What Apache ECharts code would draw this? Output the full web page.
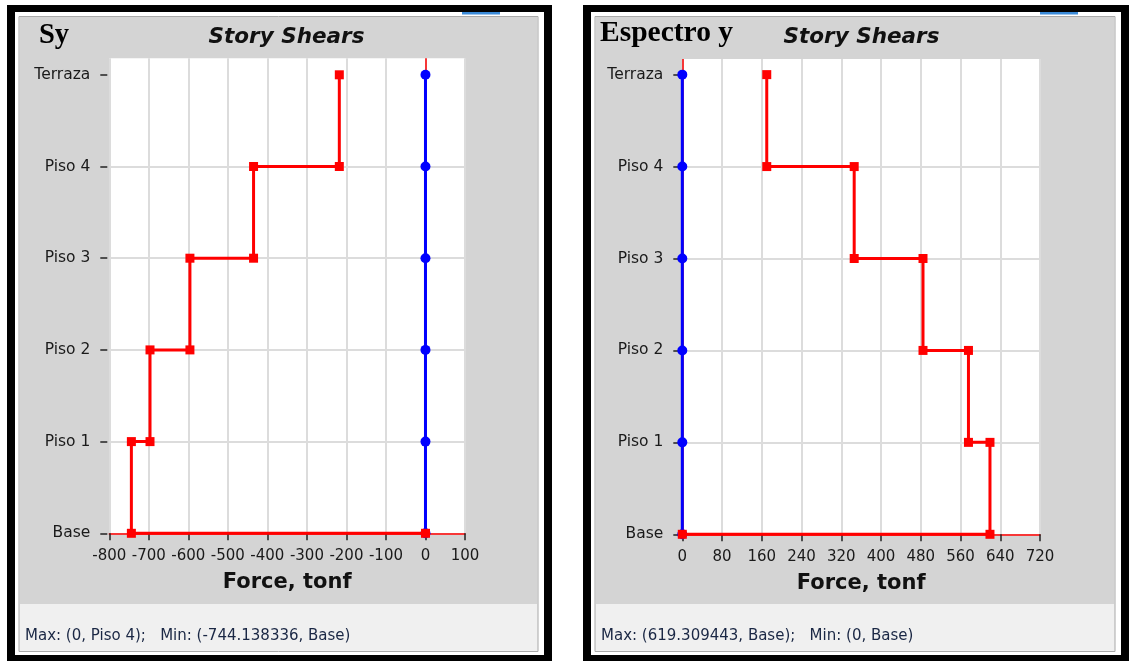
<!DOCTYPE html>
<html>
<head>
<meta charset="utf-8">
<script src="https://cdn.jsdelivr.net/npm/echarts@6/dist/echarts.min.js"></script>
<style>
html,body{margin:0;padding:0;background:#fff;}
#c{width:1137px;height:661px;}
</style>
</head>
<body>
<div id="c"></div>
<script>
// ---- data ----
const storyLevels = ['Base', 'Piso 1', 'Piso 2', 'Piso 3', 'Piso 4', 'Terraza'];
// story shears, from top story (Terraza) down to Piso 1
const shearSy = [-218, -435, -596, -697, -744.138336];
const shearSpecY = [170, 346, 484.5, 576, 619.309443];
const zeroSy = [0, 0, 0, 0, 0, 0];
const zeroSpecY = [0, 0, 0, 0, 0, 0];
const xTicksSy = { min: -800, max: 100, interval: 100 };
const xTicksSpecY = { min: 0, max: 720, interval: 80 };
const statusSy = 'Max: (0, Piso 4);   Min: (-744.138336, Base)';
const statusSpecY = 'Max: (619.309443, Base);   Min: (0, Base)';
const panelLabels = ['Sy', 'Espectro y'];
const chartTitle = 'Story Shears';
const axisTitle = 'Force, tonf';

// build stepped shear polyline: each story shear spans its top level and the level below
function stepPoints(shears) {
  const top = storyLevels.length - 1;
  const pts = [];
  shears.forEach((v, i) => {
    pts.push([v, top - i]);
    pts.push([v, top - i - 1]);
  });
  pts.push([0, 0]);
  return pts;
}
function zeroPoints(vals) {
  return vals.map((v, i) => [v, storyLevels.length - 1 - i]);
}

const FONT = 'DejaVu Sans';
const chart = echarts.init(document.getElementById('c'), null, { renderer: 'canvas' });

function xAxisDef(gi, t) {
  return {
    type: 'value', gridIndex: gi, min: t.min, max: t.max, interval: t.interval,
    axisLine: { show: true, onZero: false, lineStyle: { color: '#ff0000', width: 1.5 } },
    axisTick: { show: true, length: 7, lineStyle: { color: '#222', width: 1.5 } },
    axisLabel: { fontFamily: FONT, fontSize: 15, color: '#1a1a1a', margin: 15 },
    splitLine: { show: true, lineStyle: { color: '#dcdcdc', width: 2 } },
    name: axisTitle, nameLocation: 'middle', nameGap: 39,
    nameTextStyle: { fontFamily: FONT, fontSize: 21, fontWeight: 'bold', color: '#111' }
  };
}
function yAxisDef(gi, maxV) {
  const vals = storyLevels.map((s, i) => i);
  return {
    type: 'value', gridIndex: gi, min: 0, max: maxV, interval: 1, offset: 2,
    axisLine: { show: false, onZero: false },
    axisTick: { show: true, length: 7, customValues: vals, lineStyle: { color: '#222', width: 1.5 } },
    axisLabel: { fontFamily: FONT, fontSize: 15.5, color: '#1a1a1a', margin: 17, customValues: vals,
      formatter: v => storyLevels[Math.round(v)] },
    splitLine: { show: true, showMaxLine: false, lineStyle: { color: '#dcdcdc', width: 2 } }
  };
}
function seriesDefs(idx, shears, zeros) {
  return [
    { type: 'line', xAxisIndex: idx, yAxisIndex: idx, data: zeroPoints(zeros), showSymbol: false,
      lineStyle: { opacity: 0 }, z: 1, silent: true, animation: false,
      markLine: { silent: true, symbol: 'none', z: 1, animation: false, label: { show: false },
        lineStyle: { color: '#ff0000', width: 1.5, type: 'solid' }, data: [{ xAxis: 0 }] } },
    { type: 'line', xAxisIndex: idx, yAxisIndex: idx, data: zeroPoints(zeros), symbol: 'circle',
      symbolSize: 10, clip: false, z: 3, animation: false,
      lineStyle: { color: '#0000ff', width: 3 }, itemStyle: { color: '#0000ff' } },
    { type: 'line', xAxisIndex: idx, yAxisIndex: idx, data: stepPoints(shears), symbol: 'rect',
      symbolSize: 9, clip: false, z: 4, animation: false,
      lineStyle: { color: '#ff0000', width: 3 }, itemStyle: { color: '#ff0000' } }
  ];
}

function panelGraphics(x0, w, blueX, label, labelX, labelY, labelSize, titleX, status) {
  return [
    { type: 'rect', shape: { x: x0, y: 5, width: w, height: 660 }, style: { fill: '#000' }, z: -10, silent: true },
    { type: 'rect', shape: { x: x0 + 8, y: 12, width: w - 16, height: 643 }, style: { fill: '#fff' }, z: -9, silent: true },
    { type: 'rect', shape: { x: blueX, y: 12, width: 38, height: 2.5 }, style: { fill: '#3a8ad8' }, z: -8, silent: true },
    { type: 'rect', shape: { x: x0 + 12, y: 16.5, width: w - 26, height: 635 }, style: { fill: '#f0f0f0', stroke: '#a8a8a8', lineWidth: 1 }, z: -8, silent: true },
    { type: 'rect', shape: { x: x0 + 13, y: 17, width: w - 28, height: 587 }, style: { fill: '#d4d4d4' }, z: -7, silent: true },
    { type: 'text', x: labelX, y: labelY, style: { text: label, font: 'bold ' + labelSize + 'px "Liberation Serif"', fill: '#000', textVerticalAlign: 'middle' }, z: 10, silent: true },
    { type: 'text', x: titleX, y: 37.5, style: { text: chartTitle, font: 'italic bold 21.5px "DejaVu Sans"', fill: '#111', textAlign: 'center', textVerticalAlign: 'middle' }, z: 10, silent: true },
    { type: 'text', x: x0 + 18, y: 636, style: { text: status, font: '15px "DejaVu Sans"', fill: '#1a2744', textVerticalAlign: 'middle' }, z: 10, silent: true }
  ];
}

const option = {
  backgroundColor: '#ffffff',
  animation: false,
  grid: [
    { left: 109.3, top: 58.3, width: 355.7, height: 475, show: true, backgroundColor: '#fff', borderWidth: 0 },
    { left: 682.3, top: 59, width: 357.7, height: 475.3, show: true, backgroundColor: '#fff', borderWidth: 0 }
  ],
  xAxis: [xAxisDef(0, xTicksSy), xAxisDef(1, xTicksSpecY)],
  yAxis: [yAxisDef(0, 5.18), yAxisDef(1, 5.17)],
  series: [].concat(seriesDefs(0, shearSy, zeroSy), seriesDefs(1, shearSpecY, zeroSpecY)),
  graphic: { elements: [].concat(
    panelGraphics(7, 545, 462, panelLabels[0], 39, 36, 28.5, 286.5, statusSy),
    panelGraphics(583, 546, 1040, panelLabels[1], 600, 33.5, 29.5, 861.5, statusSpecY)
  ) }
};
chart.setOption(option);
</script>
</body>
</html>
